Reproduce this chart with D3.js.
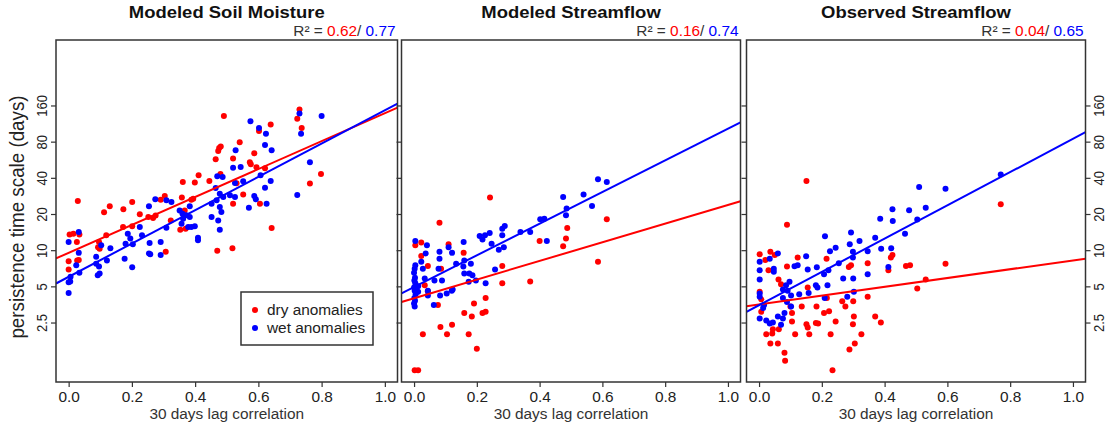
<!DOCTYPE html>
<html><head><meta charset="utf-8">
<script src="https://cdn.jsdelivr.net/npm/d3@7"></script>
<style>body{margin:0;background:#fff}svg{display:block;font-family:"Liberation Sans",Arial,Helvetica,sans-serif}</style>
</head><body><svg id="c" width="1113" height="424"></svg>
<script>
// ---------------- data ----------------
const panelTitles = ["Modeled Soil Moisture", "Modeled Streamflow", "Observed Streamflow"];
const r2Dry = ["0.62", "0.16", "0.04"];
const r2Wet = ["0.77", "0.74", "0.65"];
const xTicks = [0, 0.2, 0.4, 0.6, 0.8, 1.0];
const yTicks = [2.5, 5, 10, 20, 40, 80, 160];
const legendLabels = ["dry anomalies", "wet anomalies"];
const xLabel = "30 days lag correlation";
const yLabel = "persistence time scale (days)";

// fitted lines: value at x=0 and x=1 (log-linear)
const lineDry = [[9.5, 138], [3.98, 23.8], [3.53, 8.22]];
const lineWet = [[6.0, 146], [4.94, 102.6], [3.49, 84.4]];

const soilDry = [
[0.730,148],[0.723,124],[0.737,104],[0.491,131],[0.639,111],[0.602,98],[0.541,79],[0.476,71],[0.473,67],[0.481,73],
[0.587,64],[0.465,57],[0.520,58],[0.573,54],[0.576,52],[0.594,49],[0.621,48],[0.411,42],[0.399,36.5],[0.361,37],
[0.445,37.6],[0.480,43],[0.531,36],[0.029,25.7],[0.201,25.2],[0.130,23.2],[0.112,20.7],[0.173,21.9],[0.225,19.9],[0.304,28.3],
[0.291,26.3],[0.358,27.4],[0.394,26.8],[0.252,18.9],[0.267,18.5],[0.275,19.4],[0.172,15.6],[0.201,15.8],[0.119,13.3],[0.003,13.5],
[0.015,13.7],[0.034,13.5],[0.026,11.7],[0.096,11.7],[0.093,10.6],[0.098,10.3],[0.323,17.7],[0.367,21.4],[0.353,14.8],[0.370,15.1],
[0.798,43],[0.763,35.8],[0.642,15.3],[0.518,10.4],[0.470,9.9],[0.307,9.7],[0.000,8.1],[0.032,8.3],[0.000,6.9],[0.388,26.3],
[0.520,24.4],[0.605,24.4],[0.552,29.0],[0.027,8.2]
];
const soilWet = [
[0.730,137],[0.800,131],[0.735,93],[0.575,118],[0.602,104],[0.624,93],[0.621,75],[0.642,68],[0.528,68],[0.763,54],
[0.520,48.6],[0.544,49.2],[0.470,41.2],[0.487,40.6],[0.607,42],[0.639,37.6],[0.526,36.2],[0.552,37.4],[0.621,33.1],[0.723,28.8],
[0.465,32.9],[0.478,29.5],[0.489,27.7],[0.468,26],[0.510,28.6],[0.526,27.7],[0.587,28.3],[0.592,26.5],[0.626,24.4],[0.570,22.6],
[0.274,26.5],[0.309,26],[0.325,25.2],[0.254,23.2],[0.383,23.2],[0.452,24.4],[0.478,22.9],[0.483,20.8],[0.351,21.4],[0.360,20.1],
[0.372,19.5],[0.383,18.9],[0.362,18.3],[0.357,16.6],[0.378,15.6],[0.388,15.6],[0.399,15.8],[0.409,12.7],[0.409,12.1],[0.452,18.9],
[0.473,17.7],[0.478,14.8],[0.225,15.6],[0.232,13.3],[0.187,13.7],[0.195,12.5],[0.309,15.4],[0.032,14.2],[0.000,11.7],[0.032,9.5],
[0.103,11.0],[0.132,10.4],[0.180,11.3],[0.203,11.2],[0.256,11.5],[0.291,11.7],[0.254,9.4],[0.258,9.25],[0.291,9.1],[0.087,8.8],
[0.121,8.2],[0.177,8.5],[0.024,7.5],[0.087,7.7],[0.096,7.3],[0.092,6.2],[0.098,6.4],[0.006,6.0],[0.034,6.5],[0.000,5.4],
[0.000,4.4],[0.201,7.2],[0.005,5.5]
];
const flowDry = [
[0.242,27.4],[0.081,16.9],[0.614,18.1],[0.488,15.3],[0.484,12.5],[0.475,10.8],[0.400,11.9],[0.586,8.0],[0.281,7.4],[0.281,5.3],
[0.370,5.5],[0.110,11.2],[0.158,9.5],[0.023,11.6],[0.004,11.0],[0.023,8.95],[0.044,7.4],[0.044,4.55],[0.034,5.1],[0.086,7.0],
[0.076,3.5],[0.191,3.6],[0.228,4.0],[0.218,3.0],[0.228,3.07],[0.160,3.0],[0.184,2.8],[0.084,2.3],[0.121,2.4],[0.105,2.0],
[0.174,2.0],[0.028,2.0],[0.200,1.51],[0.002,1.0],[0.013,1.0]
];
const flowWet = [
[0.586,38.9],[0.614,36.9],[0.475,27.7],[0.540,29],[0.567,23.3],[0.486,22.2],[0.484,19.5],[0.402,18.1],[0.415,18.3],[0.339,14.2],
[0.370,14.2],[0.289,15.9],[0.281,15.1],[0.281,13.3],[0.241,13.9],[0.226,13.3],[0.209,13.1],[0.218,12.3],[0.247,11.3],[0.286,10.6],
[0.270,10.1],[0.423,11.9],[0.158,11.7],[0.110,10.6],[0.121,9.5],[0.081,9.7],[0.081,8.5],[0.041,11.0],[0.004,11.9],[0.004,7.5],
[0.023,8.0],[0.037,9.4],[0.065,5.6],[0.078,7.0],[0.089,5.6],[0.134,7.7],[0.160,8.2],[0.157,7.3],[0.160,6.4],[0.181,7.7],
[0.176,6.4],[0.186,6.2],[0.174,5.45],[0.197,5.6],[0.228,5.3],[0.258,6.9],[0.123,4.7],[0.104,4.35],[0.083,4.2],[0.120,4.6],
[0.063,3.5],[0.044,4.6],[0.044,4.2],[0.002,7.0],[0.000,6.5],[0.003,5.9],[0.001,5.6],[0.004,5.3],[0.000,4.9],[0.002,4.6],
[0.005,4.3],[0.001,4.0],[0.003,3.8],[0.000,3.6],[0.002,3.4],[0.013,5.0],[0.013,4.5],[0.028,7.0],[0.034,5.8]
];
const obsDry = [
[0.151,37.7],[0.770,24.1],[0.089,16.3],[0.594,7.7],[0.420,8.7],[0.425,9.1],[0.468,7.4],[0.481,7.5],[0.531,5.7],[0.504,4.8],
[0.412,6.8],[0.346,7.8],[0.286,7.25],[0.293,7.5],[0.215,8.5],[0.123,8.7],[0.089,7.3],[0.036,9.7],[0.050,9.1],[0.002,9.25],
[0.030,6.8],[0.062,5.7],[0.070,5.2],[0.002,4.5],[0.155,4.9],[0.136,3.4],[0.183,3.4],[0.216,4.0],[0.207,3.0],[0.223,3.1],
[0.265,3.75],[0.275,3.4],[0.300,3.75],[0.346,4.1],[0.302,2.8],[0.299,2.42],[0.370,2.8],[0.388,2.5],[0.244,2.55],[0.151,2.42],
[0.155,2.27],[0.181,2.48],[0.188,2.45],[0.105,2.55],[0.105,3.0],[0.100,3.4],[0.007,3.07],[0.023,2.0],[0.042,2.03],[0.044,2.2],
[0.063,2.2],[0.036,1.67],[0.060,1.67],[0.081,1.4],[0.083,1.2],[0.115,2.0],[0.160,2.0],[0.228,2.0],[0.326,2.0],[0.305,1.67],
[0.288,1.49],[0.234,1.0],[0.007,3.9],[0.020,8.3]
];
const obsWet = [
[0.770,42.7],[0.510,33.6],[0.594,32.5],[0.425,21.9],[0.478,21.5],[0.531,22.6],[0.386,18.3],[0.426,17.5],[0.504,18.0],[0.465,13.7],
[0.210,13.05],[0.293,14.0],[0.320,11.9],[0.289,11.2],[0.244,10.5],[0.226,9.8],[0.299,9.7],[0.299,8.7],[0.346,9.8],[0.370,12.7],
[0.389,10.3],[0.421,10.4],[0.412,7.25],[0.346,6.3],[0.150,8.9],[0.123,7.5],[0.184,7.2],[0.155,6.9],[0.254,7.8],[0.221,6.8],
[0.207,6.3],[0.268,5.8],[0.300,5.8],[0.218,5.1],[0.181,5.1],[0.158,4.4],[0.209,4.0],[0.281,4.1],[0.302,4.5],[0.128,4.3],
[0.097,5.45],[0.086,5.1],[0.076,4.7],[0.091,4.6],[0.076,4.0],[0.089,3.7],[0.102,4.2],[0.102,3.4],[0.081,3.0],[0.047,6.6],
[0.034,8.5],[0.060,9.4],[0.047,7.0],[0.002,8.0],[0.002,6.8],[0.002,5.7],[0.002,4.35],[0.002,4.1],[0.016,3.5],[0.013,3.3],
[0.002,2.7],[0.023,2.6],[0.044,2.5],[0.070,2.4],[0.034,2.45],[0.060,2.8],[0.113,7.35],[0.186,4.9],[0.076,2.7]
];
const dryData = [soilDry, flowDry, obsDry];
const wetData = [soilWet, flowWet, obsWet];

// ---------------- layout ----------------
const RED = "#ff0000", BLUE = "#0000ff", INK = "#222";
const TX = 1.12;           // horizontal stretch of text (reference is stretched)
const FS = 13.75;          // base font size
const boxes = [[56, 397.5], [401.5, 740.5], [746.5, 1085.5]];
const yTop = 40, yBot = 382;
const svg = d3.select("#c");
svg.append("rect").attr("width", 1113).attr("height", 424).attr("fill", "#fff");

const y = d3.scaleLog().domain([0.8, 561]).range([yBot, yTop]);

function hText(sel, x, yy, size, anchor) {
  return sel.append("text")
    .attr("transform", `translate(${x},${yy}) scale(${TX},1)`)
    .attr("font-size", size).attr("text-anchor", anchor).attr("fill", INK);
}

panelTitles.forEach((title, i) => {
  const [x0, x1] = boxes[i];
  const x = d3.scaleLinear().domain([-0.04, 1.04]).range([x0, x1]);
  const g = svg.append("g");
  const clipId = "clip" + i;
  svg.append("clipPath").attr("id", clipId).append("rect")
    .attr("x", x0).attr("y", yTop).attr("width", x1 - x0).attr("height", yBot - yTop);
  const plot = g.append("g").attr("clip-path", `url(#${clipId})`);

  // points
  plot.selectAll("circle.dry").data(dryData[i]).join("circle").attr("class", "dry")
    .attr("cx", d => x(d[0])).attr("cy", d => y(d[1])).attr("r", 3).attr("fill", RED);
  plot.selectAll("circle.wet").data(wetData[i]).join("circle").attr("class", "wet")
    .attr("cx", d => x(d[0])).attr("cy", d => y(d[1])).attr("r", 3).attr("fill", BLUE);

  // fitted lines (log-linear), extended across plot region
  const fit = (ab, t) => ab[0] * Math.pow(ab[1] / ab[0], t);
  [[lineDry[i], RED], [lineWet[i], BLUE]].forEach(([ab, col]) => {
    const pts = [-0.04, 1.04].map(t => [x(t), y(fit(ab, t))]);
    plot.append("path").attr("d", d3.line()(pts))
      .attr("stroke", col).attr("stroke-width", 2).attr("fill", "none");
  });

  // box
  g.append("rect").attr("x", x0).attr("y", yTop).attr("width", x1 - x0).attr("height", yBot - yTop)
    .attr("fill", "none").attr("stroke", "#333").attr("stroke-width", 1.5);

  // x axis
  const xa = g.append("g").attr("transform", `translate(0,${yBot})`)
    .call(d3.axisBottom(x).tickValues(xTicks).tickFormat(d3.format(".1f")).tickSize(5).tickSizeOuter(0));
  xa.select(".domain").remove();
  xa.selectAll(".tick line").attr("stroke", "#333").attr("stroke-width", 1.2);
  xa.selectAll(".tick text").attr("y", null).attr("dy", null)
    .attr("transform", `translate(0,19.5) scale(${TX},1)`)
    .attr("font-size", FS).attr("fill", INK);
  xa.attr("font-family", null).attr("font-size", null);

  // y axis ticks on left of each panel; labels only on first
  const ya = g.append("g").attr("transform", `translate(${x0},0)`)
    .call(d3.axisLeft(y).tickValues(yTicks).tickFormat(d => String(d)).tickSize(5).tickSizeOuter(0));
  ya.select(".domain").remove();
  ya.attr("font-family", null);
  ya.selectAll(".tick line").attr("stroke", "#333").attr("stroke-width", 1.2);
  if (i === 0) {
    ya.selectAll(".tick text").attr("x", null).attr("dy", null)
      .attr("transform", `translate(-9.5,0) scale(${TX},1) rotate(-90)`)
      .attr("text-anchor", "middle").attr("font-size", 13).attr("fill", INK);
  } else {
    ya.selectAll(".tick text").remove();
  }
  if (i === 2) {
    const yr = g.append("g").attr("transform", `translate(${x1},0)`)
      .call(d3.axisRight(y).tickValues(yTicks).tickFormat(d => String(d)).tickSize(5).tickSizeOuter(0));
    yr.select(".domain").remove();
    yr.attr("font-family", null);
    yr.selectAll(".tick line").attr("stroke", "#333").attr("stroke-width", 1.2);
    yr.selectAll(".tick text").attr("x", null).attr("dy", null)
      .attr("transform", `translate(18,0) scale(${TX},1) rotate(-90)`)
      .attr("text-anchor", "middle").attr("font-size", 13).attr("fill", INK);
  }

  // title
  hText(g, (x0 + x1) / 2, 18, 16.5, "middle").attr("font-weight", "bold").attr("fill", "#111").text(title);
  // R2
  const r2 = hText(g, x1 - 2, 35.5, FS, "end").attr("fill", "#333");
  r2.append("tspan").text("R² = ");
  r2.append("tspan").attr("fill", RED).text(r2Dry[i]);
  r2.append("tspan").attr("fill", "#333").text("/ ");
  r2.append("tspan").attr("fill", BLUE).text(r2Wet[i]);
  // x label
  hText(g, (x(0) + x(1)) / 2, 418.5, FS, "middle").attr("fill", "#333").text(xLabel);
});

// y label
svg.append("text")
  .attr("transform", `translate(24,${(yTop + yBot) / 2 + 6}) scale(${TX},1) rotate(-90)`)
  .attr("text-anchor", "middle").attr("font-size", 18.8).attr("fill", INK).text(yLabel);

// legend
const lg = svg.append("g");
lg.append("rect").attr("x", 241).attr("y", 292).attr("width", 132).attr("height", 53)
  .attr("fill", "#fff").attr("stroke", "#333").attr("stroke-width", 1.5);
[RED, BLUE].forEach((col, k) => {
  const cy = 310 + k * 18;
  lg.append("circle").attr("cx", 255).attr("cy", cy).attr("r", 3).attr("fill", col);
  hText(lg, 267, cy + 5, FS, "start").attr("fill", INK).text(legendLabels[k]);
});
</script>
</body></html>
